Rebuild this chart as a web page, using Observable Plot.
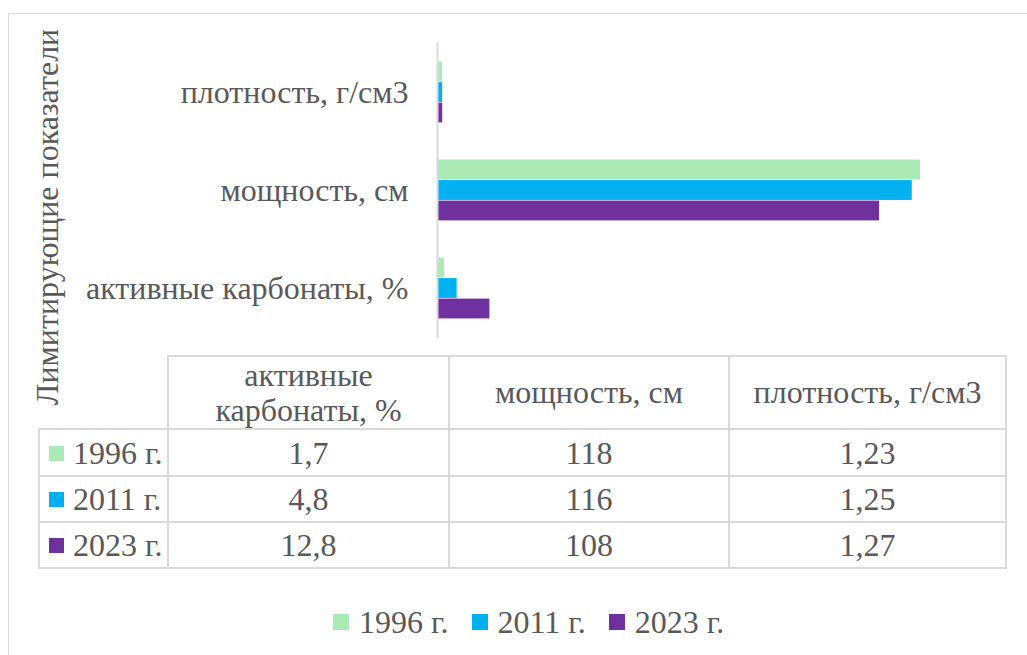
<!DOCTYPE html>
<html>
<head>
<meta charset="utf-8">
<script src="https://cdn.jsdelivr.net/npm/d3@7"></script>
<script src="https://cdn.jsdelivr.net/npm/@observablehq/plot@0.6"></script>
<style>
  html, body { margin: 0; padding: 0; background: #fff; }
  #wrap { position: relative; width: 1027px; height: 655px; overflow: hidden;
          font-family: "Liberation Serif", "Times New Roman", serif; color: #595959; }
  #frame { position: absolute; left: 8px; top: 13px; width: 1040px; height: 660px;
           border: 1px solid #d9d9d9; box-sizing: border-box; }
  #chart { position: absolute; left: 0; top: 0; }
  #ytitle { position: absolute; left: 47px; top: 217px; transform: translate(-50%, -50%) rotate(-90deg);
            white-space: nowrap; font-size: 32px; line-height: 1; }
  table { position: absolute; left: 38px; top: 355px; width: 967px; table-layout: fixed;
          border-collapse: collapse; font-size: 32px; }
  td { border: 2px solid #d9d9d9; text-align: center; padding: 0; line-height: 1.0; overflow: hidden; }
  td.head { line-height: 1.08; }
  td.corner { border: none; }
  td.key { text-align: left; padding-left: 9px; white-space: nowrap; }
  .sw { display: inline-block; width: 15px; height: 15px; margin-right: 9px; vertical-align: 3px; }
  #legend { position: absolute; left: 333px; top: 604px; font-size: 32px; display: flex; gap: 23px; white-space: nowrap; }
  #legend .sw { width: 16px; height: 16px; margin-right: 10px; }
</style>
</head>
<body>
<div id="wrap">
  <div id="frame"></div>
  <div id="chart"></div>
  <div id="ytitle"></div>
  <table id="tbl"></table>
  <div id="legend"></div>
</div>
<script>
// ---- data ----
const categories = ["активные карбонаты, %", "мощность, см", "плотность, г/см3"];
const tableHeaders = ["активные<br>карбонаты, %", "мощность, см", "плотность, г/см3"];
const years = ["1996 г.", "2011 г.", "2023 г."];
const colors = ["#AAEAB4", "#00B0F0", "#7030A0"];
const v1996 = [1.7, 118, 1.23];
const v2011 = [4.8, 116, 1.25];
const v2023 = [12.8, 108, 1.27];
const seriesValues = [v1996, v2011, v2023];
const axisTitle = "Лимитирующие показатели";
const xDomain = [0, 140];

// ---- build rows ----
const rows = [];
years.forEach((yr, i) => categories.forEach((c, j) => rows.push({year: yr, category: c, value: seriesValues[i][j]})));

// ---- chart ----
const marginTop = 42, marginBottom = 2, height = 340;
const step = (height - marginTop - marginBottom) / categories.length;
const barH = 20.5;
const groupOffset = (step - years.length * barH) / 2;

const chart = Plot.plot({
  width: 1027,
  height,
  marginTop, marginBottom,
  marginLeft: 437, marginRight: 17,
  style: {fontFamily: '"Liberation Serif", "Times New Roman", serif', fontSize: "32px", color: "#595959", background: "transparent"},
  x: {domain: xDomain, axis: null},
  y: {domain: categories.slice().reverse(), padding: 0, tickSize: 0, tickPadding: 29, label: null},
  marks: [
    ...years.map((yr, i) => Plot.barX(rows.filter(r => r.year === yr), {
      x: "value", y: "category", fill: colors[i],
      insetTop: groupOffset + i * barH,
      insetBottom: step - groupOffset - (i + 1) * barH
    })),
    Plot.ruleX([0], {stroke: "#d9d9d9", strokeWidth: 2})
  ]
});
document.getElementById("chart").appendChild(chart);

document.getElementById("ytitle").textContent = axisTitle;

// ---- data table ----
const fmt = v => String(v).replace(".", ",");
const tbl = document.getElementById("tbl");
const colW = [129, 281, 280, 277];
let html = "<colgroup>" + colW.map(w => "<col style='width:" + w + "px'>").join("") + "</colgroup>";
html += "<tr style='height:73px'><td class='corner'></td>";
tableHeaders.forEach(h => html += "<td class='head'>" + h + "</td>");
html += "</tr>";
years.forEach((yr, i) => {
  html += "<tr style='height:" + (i === 0 ? 47 : 46) + "px'><td class='key'><span class='sw' style='background:" + colors[i] + "'></span>" + yr + "</td>";
  categories.forEach((c, j) => html += "<td>" + fmt(seriesValues[i][j]) + "</td>");
  html += "</tr>";
});
tbl.innerHTML = html;

// ---- legend ----
const lg = document.getElementById("legend");
years.forEach((yr, i) => {
  const d = document.createElement("div");
  d.innerHTML = "<span class='sw' style='background:" + colors[i] + "'></span>" + yr;
  lg.appendChild(d);
});
</script>
</body>
</html>
